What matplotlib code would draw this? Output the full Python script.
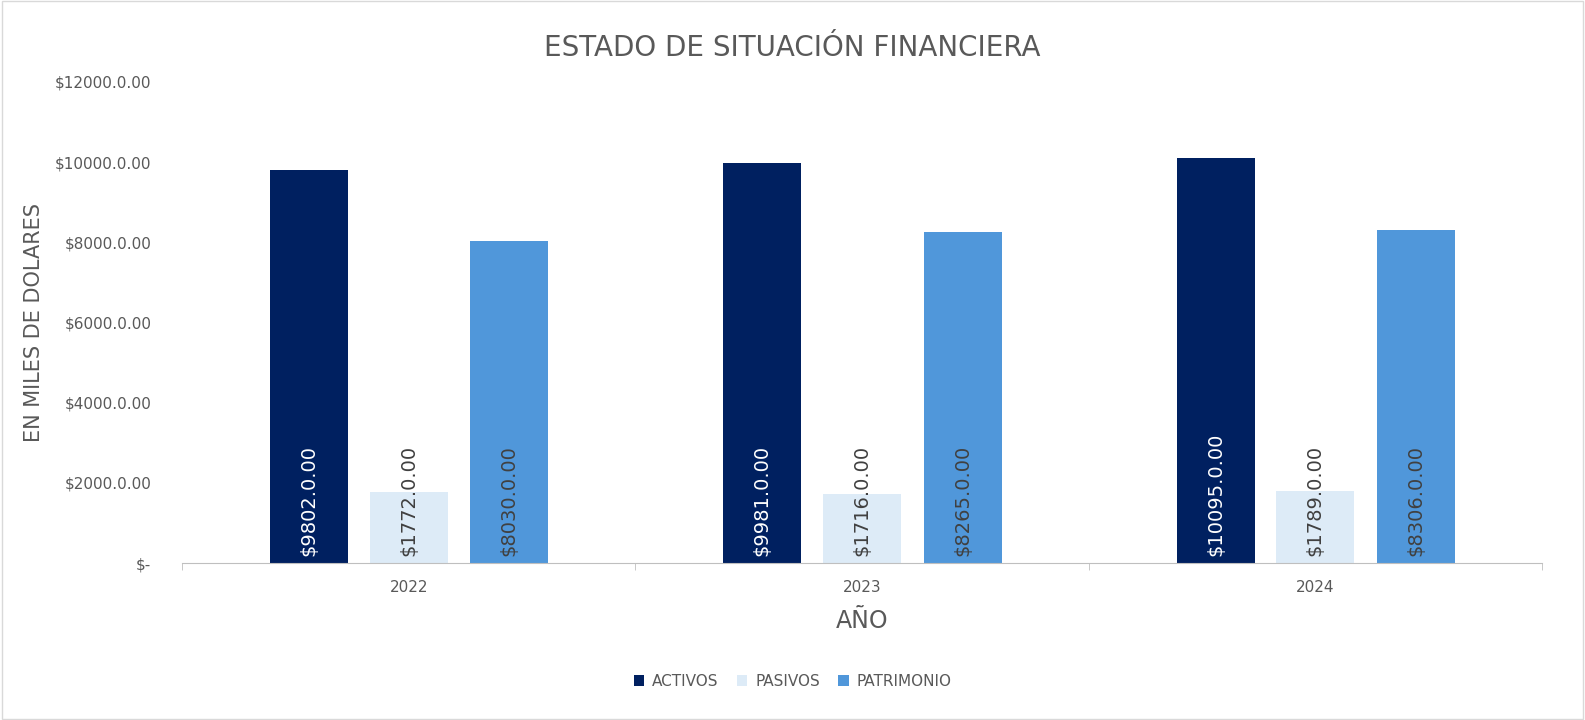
import matplotlib
matplotlib.use("Agg")
import matplotlib.pyplot as plt
import numpy as np

years = ["2022", "2023", "2024"]
activos = [9802, 9981, 10095]
pasivos = [1772, 1716, 1789]
patrimonio = [8030, 8265, 8306]
series = [("ACTIVOS", activos, "#002060", "white"),
          ("PASIVOS", pasivos, "#DDEBF7", "#404040"),
          ("PATRIMONIO", patrimonio, "#5097DA", "#404040")]

fig = plt.figure(figsize=(15.85, 7.2), dpi=100)
ax = fig.add_axes([182/1585, 1-563/720, 1360/1585, 481/720])
fig.patches.append(plt.Rectangle((0.001, 0.001), 0.998, 0.997, transform=fig.transFigure,
                                 fill=False, edgecolor="#D9D9D9", lw=1))
x = np.arange(len(years))
w = 0.172
offs = [-0.22, 0.0, 0.222]
for (name, vals, col, tcol), o in zip(series, offs):
    bars = ax.bar(x + o, vals, w, color=col, label=name)
    for b, v in zip(bars, vals):
        ax.text(b.get_x() + b.get_width()/2, 180, f"${v}.0.00", rotation=90,
                ha="center", va="bottom", color=tcol, fontsize=14)

ax.set_xlim(-0.5, 2.5)
ax.set_ylim(0, 12000)
ax.set_yticks(range(0, 12001, 2000))
ax.set_yticklabels(["$-"] + [f"${v}.0.00" for v in range(2000, 12001, 2000)],
                   color="#595959", fontsize=11)
ax.set_xticks(x)
ax.set_xticklabels(years, color="#595959", fontsize=11)
ax.set_xticks([-0.5, 0.5, 1.5, 2.5], minor=True)
ax.tick_params(axis="x", which="major", length=0, pad=12)
ax.tick_params(axis="x", which="minor", length=5, color="#BFBFBF")
ax.tick_params(axis="y", length=0, pad=22)
for s in ["top", "right", "left"]:
    ax.spines[s].set_visible(False)
ax.spines["bottom"].set_color("#BFBFBF")
ax.set_xlabel("AÑO", fontsize=17, color="#595959", labelpad=10)
ax.set_ylabel("EN MILES DE DOLARES", fontsize=15, color="#595959", labelpad=8)
fig.text(0.5, 1-48/720, "ESTADO DE SITUACIÓN FINANCIERA", ha="center", va="center",
         fontsize=20, color="#595959")
fig.legend(loc="center", bbox_to_anchor=(0.5, 1-681/720), ncol=3, frameon=False,
           fontsize=11, handlelength=0.7, handleheight=0.7, labelcolor="#595959",
           columnspacing=1.2, handletextpad=0.5)
fig.savefig("out.png", dpi=100)
